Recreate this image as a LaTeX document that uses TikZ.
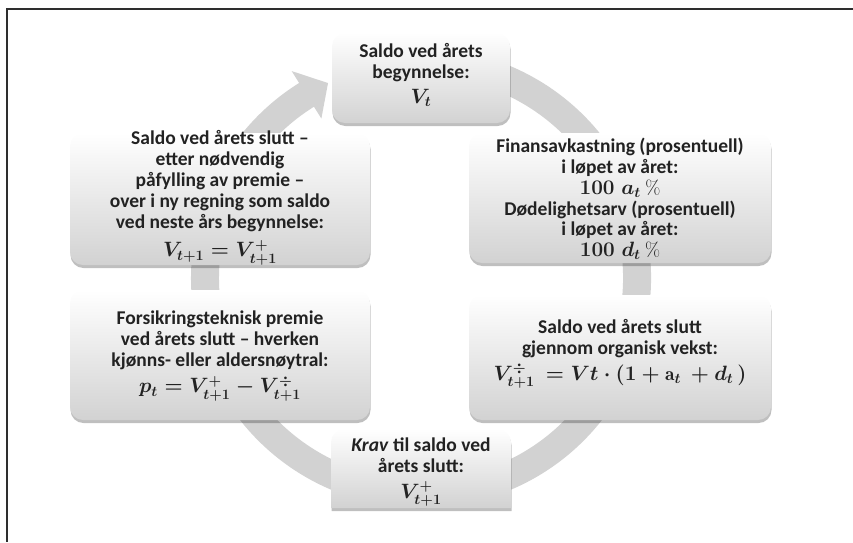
\documentclass[tikz,border=0pt]{standalone}
\usepackage{fontspec}
\setsansfont{Carlito}
\usetikzlibrary{shadows,calc}
\definecolor{ringgray}{HTML}{D2D2D2}
\definecolor{boxbot}{HTML}{D2D2D2}
\definecolor{txt}{HTML}{222222}
\definecolor{framecol}{HTML}{2E2E2E}
\tikzset{
  boxshadow/.style={drop shadow={shadow xshift=0.5pt, shadow yshift=-3pt, opacity=0.25, fill=black}},
  box/.style={rounded corners=13pt, top color=white, bottom color=boxbot, draw=none, inner sep=0pt, boxshadow},
  lbl/.style={align=center, text=txt, inner sep=0pt,
    font=\fontsize{19.5}{20.8}\selectfont\sffamily\bfseries\boldmath},
  ringstyle/.style={draw=ringgray, line width=28pt},
  framestyle/.style={draw=framecol, line width=2.5pt},
}
\newcommand{\pct}{{\rmfamily\mdseries\%}}
\begin{document}
\begin{tikzpicture}[x=1pt,y=-1pt]
\useasboundingbox (0,0) rectangle (853,542);
\draw[framestyle] (853,9) -- (7,9) -- (7,542);
% cycle ring
\coordinate (c) at (421,278);
\draw[ringstyle] ($(c)+(250:216)$) arc[start angle=250, end angle=598.5, radius=216];
\coordinate (ah1) at ($(c)+(238:244)$);
\coordinate (ah2) at ($(c)+(238:188)$);
\coordinate (tip) at ($(c)+(244.5:216)$);
\fill[ringgray] (ah1) -- (tip) -- (ah2) -- cycle;
% boxes
\node[box, minimum width=178pt, minimum height=90pt] (tbox) at (421,78) {};
\node[box, minimum width=302pt, minimum height=130pt] (rubox) at (620,198) {};
\node[box, minimum width=302pt, minimum height=125pt] (rlbox) at (620,357.5) {};
\node[box, minimum width=300pt, minimum height=130pt] (llbox) at (220,355) {};
\node[box, minimum width=300pt, minimum height=132pt] (lubox) at (220,199) {};
\path[top color=white, bottom color=boxbot, boxshadow]
  (331,508) -- (331,442) arc[start angle=180, end angle=270, radius=13] -- (498,429)
  arc[start angle=270, end angle=360, radius=13] -- (511,508) -- cycle;
\coordinate (bbox) at (421,468.5);
% labels
\node[lbl] (tlab) at (421,75) {Saldo ved årets\\ begynnelse:\\[4pt] $V_t$};
\node[lbl] (rulab) at (620,199) {Finansavkastning (prosentuell)\\ i løpet av året:\\ $100\;a_t$ \pct\\ Dødelighetsarv (prosentuell)\\ i løpet av året:\\ $100\;d_t$ \pct};
\node[lbl] (rllab) at (620,354) {Saldo ved årets slutt\\ gjennom organisk vekst:\\[5pt] $V^{\div}_{t+1}\ = Vt\cdot(1+\mathrm{a}_t\ + d_t\,)$};
\node[lbl] (blab) at (421,472) {\textit{Krav} til saldo ved\\ årets slutt:\\[5pt] $V^{+}_{t+1}$};
\node[lbl] (lllab) at (220,356) {Forsikringsteknisk premie\\ ved årets slutt – hverken\\ kjønns- eller aldersnøytral:\\[6pt] $p_t = V^{+}_{t+1} - V^{\div}_{t+1}$};
\node[lbl] (lulab) at (220,198) {Saldo ved årets slutt –\\ etter nødvendig\\ påfylling av premie –\\ over i ny regning som saldo\\ ved neste års begynnelse:\\[8pt] $V_{t+1} = V^{+}_{t+1}$};
\end{tikzpicture}
\end{document}
